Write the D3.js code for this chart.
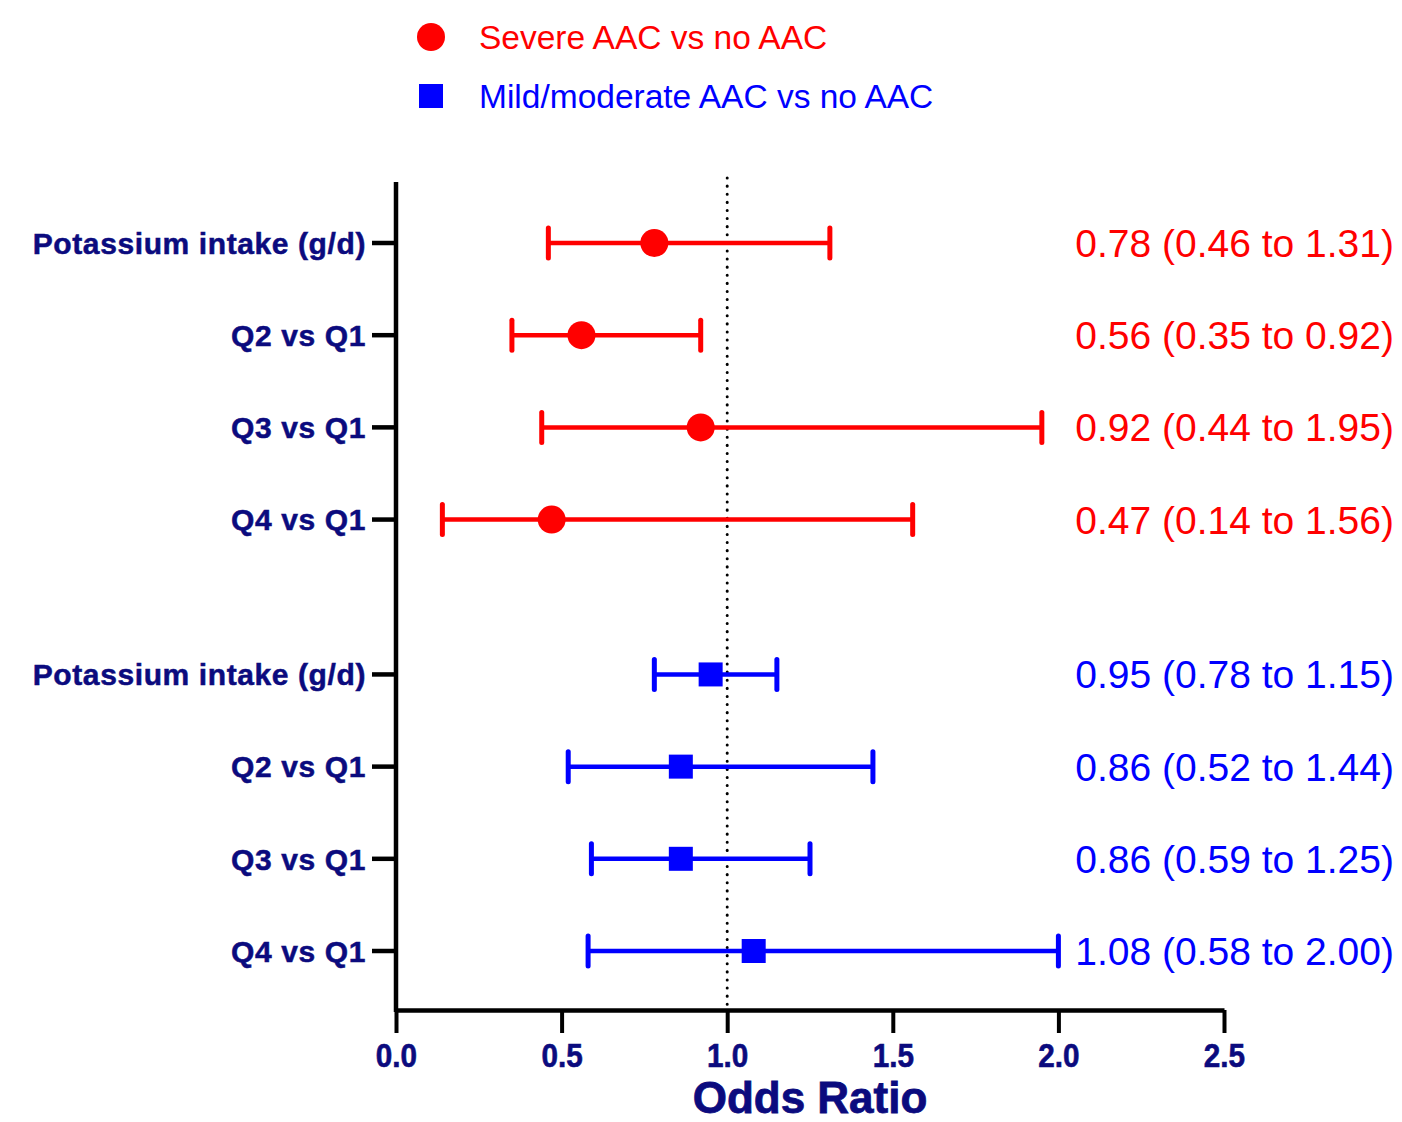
<!DOCTYPE html>
<html>
<head>
<meta charset="utf-8">
<script src="https://cdn.jsdelivr.net/npm/d3@7"></script>
<style>
  body { margin: 0; background: #fff; }
</style>
</head>
<body>
<div class="chart_area"></div>
<script>
// data
var rowLabels = ["Potassium intake (g/d)", "Q2 vs Q1", "Q3 vs Q1", "Q4 vs Q1"];
var groups = ["Severe AAC vs no AAC", "Mild/moderate AAC vs no AAC"];
var severeOR = [0.78, 0.56, 0.92, 0.47];
var severeLo = [0.46, 0.35, 0.44, 0.14];
var severeHi = [1.31, 0.92, 1.95, 1.56];
var mildOR = [0.95, 0.86, 0.86, 1.08];
var mildLo = [0.78, 0.52, 0.59, 0.58];
var mildHi = [1.15, 1.44, 1.25, 2.00];
var xTicks = [0, 0.5, 1.0, 1.5, 2.0, 2.5];

var colors = ["#ff0000", "#0000ff"];
var navy = "#0b0b7e";

var width = 1402, height = 1122;

var svg = d3.select(".chart_area")
    .append("svg")
    .attr("width", width)
    .attr("height", height);

var x = d3.scaleLinear().domain([0, 2.5]).range([396, 1224]);
// slot position: group 0 rows 0..3, group 1 rows shifted by gap
var y = d3.scaleLinear().domain([0, 7.68]).range([243, 951]);
function slot(g, i) { return g * 4.68 + i; }

var rows = [];
[ [severeOR, severeLo, severeHi], [mildOR, mildLo, mildHi] ].forEach(function(s, g){
    s[0].forEach(function(v, i){
        rows.push({ g: g, i: i, label: rowLabels[i], or: v, lo: s[1][i], hi: s[2][i] });
    });
});

// reference line at OR = 1
svg.append("line")
    .attr("x1", x(1)).attr("x2", x(1))
    .attr("y1", 178).attr("y2", 1010)
    .attr("stroke", "#000")
    .attr("stroke-width", 3)
    .attr("stroke-dasharray", "0.1 8")
    .attr("stroke-linecap", "round");

// x axis
var xAxis = svg.append("g")
    .attr("transform", "translate(0,1010)")
    .call(d3.axisBottom(x).tickValues(xTicks).tickFormat(d3.format(".1f")).tickSize(23).tickSizeOuter(0));
xAxis.select(".domain").attr("stroke", "#000").attr("stroke-width", 4.5);
xAxis.selectAll(".tick line").attr("stroke", "#000").attr("stroke-width", 4);
xAxis.selectAll(".tick text")
    .attr("y", 57)
    .attr("dy", null)
    .attr("transform", "scale(0.9,1)")
    .attr("fill", navy)
    .attr("stroke", navy)
    .attr("stroke-width", 0.6)
    .style("font-family", "'Liberation Sans', Arial, sans-serif")
    .style("font-weight", "bold")
    .style("font-size", "33px");

// y axis line and ticks
svg.append("line")
    .attr("x1", 396).attr("x2", 396)
    .attr("y1", 182).attr("y2", 1012)
    .attr("stroke", "#000").attr("stroke-width", 4.5);

svg.append("g").selectAll("line")
    .data(rows).enter().append("line")
    .attr("x1", 372).attr("x2", 396)
    .attr("y1", function(d){ return y(slot(d.g, d.i)); })
    .attr("y2", function(d){ return y(slot(d.g, d.i)); })
    .attr("stroke", "#000").attr("stroke-width", 4.5);

svg.append("g").selectAll("text")
    .data(rows).enter().append("text")
    .attr("x", 366)
    .attr("y", function(d){ return y(slot(d.g, d.i)); })
    .attr("dy", "0.36em")
    .attr("text-anchor", "end")
    .attr("fill", navy)
    .attr("stroke", navy)
    .attr("stroke-width", 0.5)
    .style("font-family", "'Liberation Sans', Arial, sans-serif")
    .style("font-weight", "bold")
    .style("font-size", "30px")
    .style("letter-spacing", "0.6px")
    .text(function(d){ return d.label; });

// error bars
var bars = svg.append("g").selectAll("g")
    .data(rows).enter().append("g")
    .attr("transform", function(d){ return "translate(0," + y(slot(d.g, d.i)) + ")"; });

bars.append("line")
    .attr("x1", function(d){ return x(d.lo); })
    .attr("x2", function(d){ return x(d.hi); })
    .attr("stroke", function(d){ return colors[d.g]; })
    .attr("stroke-width", 4.5);

bars.selectAll(".cap")
    .data(function(d){ return [ {v: d.lo, g: d.g}, {v: d.hi, g: d.g} ]; })
    .enter().append("line")
    .attr("class", "cap")
    .attr("x1", function(c){ return x(c.v); })
    .attr("x2", function(c){ return x(c.v); })
    .attr("y1", -15).attr("y2", 15)
    .attr("stroke", function(c){ return colors[c.g]; })
    .attr("stroke-width", 5)
    .attr("stroke-linecap", "round");

bars.filter(function(d){ return d.g === 0; })
    .append("circle")
    .attr("cx", function(d){ return x(d.or); })
    .attr("r", 14)
    .attr("fill", colors[0]);

bars.filter(function(d){ return d.g === 1; })
    .append("rect")
    .attr("x", function(d){ return x(d.or) - 12; })
    .attr("y", -12)
    .attr("width", 24).attr("height", 24)
    .attr("fill", colors[1]);

// OR (95% CI) text on the right
var fmt = d3.format(".2f");
bars.append("text")
    .attr("x", 1394)
    .attr("dy", "0.36em")
    .attr("text-anchor", "end")
    .attr("fill", function(d){ return colors[d.g]; })
    .style("font-family", "'Liberation Sans', Arial, sans-serif")
    .style("font-size", "39px")
    .text(function(d){ return fmt(d.or) + " (" + fmt(d.lo) + " to " + fmt(d.hi) + ")"; });

// axis title
svg.append("text")
    .attr("x", 810).attr("y", 1113)
    .attr("text-anchor", "middle")
    .attr("fill", navy)
    .attr("stroke", navy)
    .attr("stroke-width", 0.8)
    .style("font-family", "'Liberation Sans', Arial, sans-serif")
    .style("font-weight", "bold")
    .style("font-size", "44px")
    .text("Odds Ratio");

// legend
var legend = svg.append("g").selectAll("g")
    .data(groups).enter().append("g")
    .attr("transform", function(d, i){ return "translate(431," + (37 + i * 59) + ")"; });

legend.filter(function(d, i){ return i === 0; })
    .append("circle").attr("r", 14).attr("fill", colors[0]);
legend.filter(function(d, i){ return i === 1; })
    .append("rect").attr("x", -12).attr("y", -12).attr("width", 24).attr("height", 24).attr("fill", colors[1]);

legend.append("text")
    .attr("x", 48)
    .attr("dy", "0.36em")
    .attr("fill", function(d, i){ return colors[i]; })
    .style("font-family", "'Liberation Sans', Arial, sans-serif")
    .style("font-size", "33.5px")
    .text(function(d){ return d; });
</script>
</body>
</html>
